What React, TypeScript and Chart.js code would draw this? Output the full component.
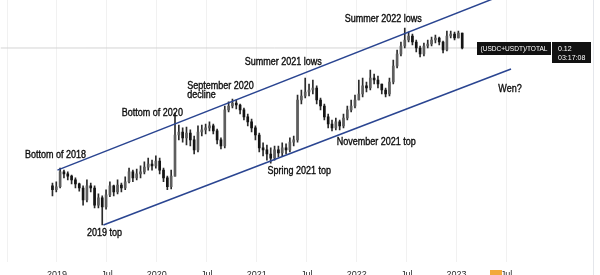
import React, { useEffect, useRef } from 'react';
import { Chart, registerables } from 'chart.js';

Chart.register(...registerables);

// ---------- data (y = (USDC+USDT)/TOTAL ratio, log scale) ----------
const START_YEAR = 2018.955; // first candle (fractional year)
const STEP_YEARS = 14 / 365.25; // two-week candles
const FIRST_OPEN = 0.0165;

const closes = [
  0.0156, 0.0163, 0.0202, 0.0196, 0.019, 0.018, 0.017, 0.016, 0.0135, 0.0165,
  0.016, 0.0125, 0.0139, 0.0122, 0.0145, 0.0165, 0.0151, 0.0167, 0.016, 0.0175,
  0.0202, 0.0185, 0.0196, 0.0202, 0.0216, 0.0226, 0.022, 0.0236, 0.0207, 0.0185,
  0.0163, 0.019, 0.0343, 0.0358, 0.0329, 0.0353, 0.032, 0.0277, 0.0358, 0.0369,
  0.038, 0.0391, 0.0364, 0.032, 0.0293, 0.0492, 0.0521, 0.0544, 0.0528, 0.0492,
  0.0445, 0.0414, 0.038, 0.0343, 0.0285, 0.0277, 0.0261, 0.0246, 0.0277, 0.0265,
  0.0285, 0.0277, 0.031, 0.032, 0.0568, 0.0601, 0.0637, 0.0656, 0.0675, 0.0568,
  0.0521, 0.0445, 0.0402, 0.038, 0.0414, 0.0391, 0.0438, 0.0492, 0.0521, 0.0568,
  0.0619, 0.0695, 0.0675, 0.0779, 0.0757, 0.0715, 0.0656, 0.0619, 0.0736, 0.0926,
  0.1101, 0.1235, 0.1346, 0.1426, 0.1308, 0.12, 0.1101, 0.1235, 0.1271, 0.1346,
  0.1386, 0.1308, 0.1166, 0.1426, 0.1468, 0.1386, 0.1489, 0.12,
];

const highs = [
  0.0172, 0.0175, 0.0213, 0.0207, 0.0202, 0.0193, 0.0185, 0.0172, 0.0165, 0.018,
  0.0172, 0.0165, 0.0147, 0.0143, 0.0156, 0.0175, 0.0167, 0.018, 0.0172, 0.0188,
  0.0213, 0.0207, 0.021, 0.022, 0.0233, 0.0246, 0.0239, 0.0254, 0.0246, 0.0213,
  0.019, 0.0207, 0.0471, 0.0396, 0.038, 0.0385, 0.0369, 0.0338, 0.0391, 0.0396,
  0.0402, 0.0414, 0.0402, 0.0374, 0.0329, 0.0521, 0.0552, 0.0576, 0.0568, 0.0536,
  0.0506, 0.0464, 0.0432, 0.0391, 0.0353, 0.0306, 0.0297, 0.0285, 0.0293, 0.0293,
  0.0306, 0.0302, 0.0329, 0.0338, 0.061, 0.0656, 0.0779, 0.0715, 0.0757, 0.0695,
  0.0584, 0.0536, 0.0464, 0.0426, 0.0438, 0.0426, 0.0464, 0.0521, 0.0568, 0.061,
  0.0757, 0.0779, 0.0736, 0.0874, 0.0825, 0.0802, 0.0715, 0.0675, 0.0779, 0.101,
  0.1166, 0.1308, 0.16, 0.1511, 0.1468, 0.1346, 0.1235, 0.129, 0.1346, 0.1406,
  0.1447, 0.1406, 0.1327, 0.1533, 0.1533, 0.1511, 0.1533, 0.1489,
];

const lows = [
  0.0143, 0.0151, 0.016, 0.0185, 0.018, 0.017, 0.016, 0.0153, 0.0125, 0.0131,
  0.0151, 0.012, 0.012, 0.0094, 0.0118, 0.0141, 0.0143, 0.0147, 0.0151, 0.0156,
  0.0172, 0.0175, 0.018, 0.0185, 0.0196, 0.0207, 0.0207, 0.0213, 0.0196, 0.0175,
  0.0156, 0.0158, 0.019, 0.032, 0.031, 0.0297, 0.0293, 0.0261, 0.0269, 0.0338,
  0.0348, 0.0364, 0.0348, 0.0302, 0.0281, 0.0285, 0.0478, 0.0506, 0.0499, 0.0464,
  0.0426, 0.0391, 0.0358, 0.032, 0.0269, 0.0254, 0.0239, 0.0229, 0.0239, 0.025,
  0.0254, 0.0261, 0.0269, 0.0293, 0.031, 0.0536, 0.0584, 0.0601, 0.0619, 0.0536,
  0.0492, 0.0426, 0.038, 0.0364, 0.0369, 0.0369, 0.038, 0.0426, 0.0478, 0.0506,
  0.0568, 0.0593, 0.0637, 0.0656, 0.0715, 0.0675, 0.0619, 0.0593, 0.0601, 0.0715,
  0.09, 0.107, 0.12, 0.1308, 0.1253, 0.1133, 0.1054, 0.107, 0.12, 0.1235,
  0.129, 0.1253, 0.1117, 0.1149, 0.1386, 0.1346, 0.1386, 0.1183,
];

const LAST_VALUE = 0.12;
const upperChannel = [
  { x: 2019.005, y: 0.0207 },
  { x: 2023.435, y: 0.2532 },
];
const lowerChannel = [
  { x: 2019.465, y: 0.0094 },
  { x: 2023.545, y: 0.0887 },
];

const tickYears = [2018.5, 2019, 2019.5, 2020, 2020.5, 2021, 2021.5, 2022, 2022.5, 2023, 2023.5];
const tickLabels = ['', '2019', 'Jul', '2020', 'Jul', '2021', 'Jul', '2022', 'Jul', '2023', 'Jul'];

const notes = [
  { text: 'Bottom of 2018', x: 2018.985, y: 0.0257, align: 'center' },
  { text: '2019 top', x: 2019.475, y: 0.0084, align: 'center' },
  { text: 'Bottom of 2020', x: 2019.955, y: 0.0471, align: 'center' },
  { text: 'September 2020', x: 2020.305, y: 0.0695, align: 'left' },
  { text: 'decline', x: 2020.305, y: 0.061, align: 'left' },
  { text: 'Summer 2021 lows', x: 2021.265, y: 0.0981, align: 'center' },
  { text: 'Summer 2022 lows', x: 2022.265, y: 0.1822, align: 'center' },
  { text: 'Spring 2021 top', x: 2021.425, y: 0.0204, align: 'center' },
  { text: 'November 2021 top', x: 2022.195, y: 0.031, align: 'center' },
  { text: 'Wen?', x: 2023.535, y: 0.0665, align: 'center' },
];

const SYMBOL = '(USDC+USDT)/TOTAL';
const VALUE_TEXT = '0.12';
const TIME_TEXT = '03:17:08';

const X_MIN = 2018.435;
const X_MAX = 2023.915;
const Y_MIN = 0.005517;
const Y_MAX = 0.2394;

const FONT = '"Liberation Sans", Arial, sans-serif';

export default function App() {
  const ref = useRef<HTMLCanvasElement | null>(null);

  useEffect(() => {
    const canvas = ref.current;
    if (!canvas) return;

    const xs = closes.map((_, i) => START_YEAR + i * STEP_YEARS);
    const opens = closes.map((_, i) => (i === 0 ? FIRST_OPEN : closes[i - 1]));
    const wicks = xs.map((x, i) => ({ x, y: [lows[i], highs[i]] }));
    const bodies = xs.map((x, i) => ({ x, y: [opens[i], closes[i]] }));
    const bodyColors = closes.map((c, i) => (c >= opens[i] ? '#5e5e5e' : '#141414'));

    const overlay = {
      id: 'overlay',
      afterDatasetsDraw(chart: any) {
        const { ctx, scales, chartArea } = chart;
        const xs2 = scales.x;
        const ys = scales.y;
        ctx.save();
        // annotations
        ctx.fillStyle = '#0d0d0d';
        ctx.strokeStyle = '#0d0d0d';
        ctx.lineWidth = 0.35;
        ctx.font = `10px ${FONT}`;
        ctx.textBaseline = 'middle';
        notes.forEach((n) => {
          const px = xs2.getPixelForValue(n.x);
          const py = ys.getPixelForValue(n.y);
          ctx.save();
          ctx.translate(px, py);
          ctx.scale(0.9, 1);
          ctx.textAlign = n.align as CanvasTextAlign;
          ctx.fillText(n.text, 0, 0);
          ctx.strokeText(n.text, 0, 0);
          ctx.restore();
        });
        // last value labels
        const vy = Math.round(ys.getPixelForValue(LAST_VALUE));
        const right = chartArea.right;
        ctx.fillStyle = '#111111';
        ctx.fillRect(right - 71, vy - 6, 74, 13);
        ctx.fillRect(right + 4, vy - 6, 39, 21);
        ctx.fillStyle = '#ffffff';
        ctx.font = `8px ${FONT}`;
        ctx.save();
        ctx.translate(right - 34, vy + 0.5);
        ctx.scale(0.82, 1);
        ctx.textAlign = 'center';
        ctx.fillText(SYMBOL, 0, 0);
        ctx.restore();
        ctx.save();
        ctx.textAlign = 'left';
        ctx.translate(right + 10, vy + 0.5);
        ctx.scale(0.88, 1);
        ctx.fillText(VALUE_TEXT, 0, 0);
        ctx.fillText(TIME_TEXT, 0, 9);
        ctx.restore();
        // right border
        ctx.strokeStyle = '#e4e6eb';
        ctx.lineWidth = 1;
        ctx.beginPath();
        ctx.moveTo(593.5, 0);
        ctx.lineTo(593.5, 290);
        ctx.stroke();
        // small logo mark
        ctx.fillStyle = '#f2a93b';
        ctx.fillRect(490, 270, 12, 6);
        ctx.restore();
      },
    };

    const chart = new Chart(canvas, {
      type: 'bar',
      data: {
        datasets: [
          {
            type: 'line',
            label: 'last value',
            data: [
              { x: X_MIN, y: LAST_VALUE },
              { x: X_MAX, y: LAST_VALUE },
            ],
            borderColor: '#d4d4d4',
            borderWidth: 1,
            pointRadius: 0,
            order: 10,
          },
          {
            type: 'bar',
            label: 'wicks',
            data: wicks as any,
            backgroundColor: '#2b2b2b',
            barThickness: 1,
            grouped: false,
            order: 5,
          },
          {
            type: 'bar',
            label: 'bodies',
            data: bodies as any,
            backgroundColor: bodyColors,
            barThickness: 2,
            minBarLength: 1,
            grouped: false,
            order: 4,
          },
          {
            type: 'line',
            label: 'upper channel',
            data: upperChannel,
            borderColor: '#2a4591',
            borderWidth: 1.5,
            pointRadius: 0,
            order: 1,
          },
          {
            type: 'line',
            label: 'lower channel',
            data: lowerChannel,
            borderColor: '#2a4591',
            borderWidth: 1.5,
            pointRadius: 0,
            order: 1,
          },
        ] as any,
      },
      options: {
        animation: false,
        responsive: false,
        maintainAspectRatio: false,
        layout: { padding: { left: 0, right: 52, top: 0, bottom: 0 } },
        plugins: { legend: { display: false }, tooltip: { enabled: false } },
        scales: {
          x: {
            type: 'linear',
            offset: false,
            min: X_MIN,
            max: X_MAX,
            afterBuildTicks: (s: any) => {
              s.ticks = tickYears.map((v) => ({ value: v }));
            },
            afterFit: (s: any) => {
              s.height = 28;
            },
            ticks: {
              autoSkip: false,
              maxRotation: 0,
              padding: 7,
              color: '#2a2a2a',
              font: { size: 9, family: FONT },
              callback: (v: any) => {
                const k = tickYears.indexOf(Number(v));
                return k >= 0 ? tickLabels[k] : '';
              },
            },
            grid: { color: '#f1f1f1', drawTicks: false, offset: false },
            border: { display: false },
          },
          y: {
            type: 'logarithmic',
            min: Y_MIN,
            max: Y_MAX,
            display: false,
          },
        },
      } as any,
      plugins: [overlay],
    });

    return () => chart.destroy();
  }, []);

  return (
    <div
      style={{
        position: 'fixed',
        left: 0,
        top: 0,
        width: 600,
        height: 275,
        overflow: 'hidden',
        background: '#ffffff',
      }}
    >
      <canvas ref={ref} width={600} height={290} style={{ width: 600, height: 290, display: 'block' }} />
    </div>
  );
}
